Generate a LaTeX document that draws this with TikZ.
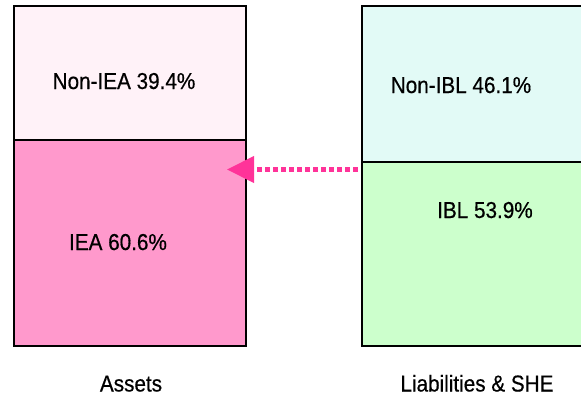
\documentclass[tikz,border=0pt]{standalone}
\usepackage{fontspec}
\setmainfont[FakeStretch=0.9,FakeBold=0.5]{Liberation Sans}
\usepackage{tikz}
\usepackage{xcolor}
\usetikzlibrary{arrows.meta}

\definecolor{ieapink}{HTML}{FF99CC}
\definecolor{nonieapink}{HTML}{FFF2F8}
\definecolor{iblgreen}{HTML}{CCFFCC}
\definecolor{noniblcyan}{HTML}{E2FAF6}
\definecolor{flowpink}{HTML}{FF3399}

\tikzset{
  part/.style={draw=black, line width=1.6pt, inner sep=0pt, outer sep=0pt, minimum width=#1},
  lbl/.style={anchor=base, font=\fontsize{23}{27}\selectfont},
  flow/.style={flowpink, line width=4.2pt, dash pattern=on 4.5pt off 3.5pt,
    -{Triangle[length=27pt,width=26pt]}}
}

\begin{document}
\begin{tikzpicture}[x=1pt,y=-1pt]
\useasboundingbox (0,0) rectangle (581,400);
\clip (0,0) rectangle (581,400);
\node [part=232pt, minimum height=134pt, fill=nonieapink] (noniea) at (130,73) {};
\node [part=232pt, minimum height=206pt, fill=ieapink] (iea) at (130,243) {};
\node [part=228pt, minimum height=156pt, fill=noniblcyan] (nonibl) at (476,84) {};
\node [part=228pt, minimum height=184pt, fill=iblgreen] (ibl) at (476,254) {};
\node [lbl] (tnoniea) at (124,89) {Non-IEA 39.4\%};
\node [lbl] (tiea) at (118,250) {IEA 60.6\%};
\node [lbl] (tnonibl) at (461,93) {Non-IBL 46.1\%};
\node [lbl] (tibl) at (485,218) {IBL 53.9\%};
\node [lbl] (assets) at (131,391.5) {Assets};
\node [lbl] (liab) at (477,391.5) {Liabilities \& SHE};
\coordinate (from) at ([shift={(-4.5pt,-7.5pt)}]ibl.north west);
\coordinate (to) at ([xshift=-19pt]from -| iea.east);
\draw [flow] (from) -- (to);
\end{tikzpicture}
\end{document}
